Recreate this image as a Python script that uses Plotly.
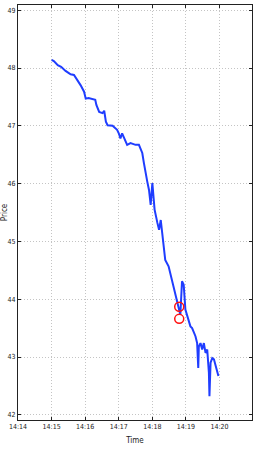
import plotly.graph_objects as go

day = "2020-01-01 "
times = ["14:15:00","14:15:04","14:15:11","14:15:17","14:15:25","14:15:34","14:15:40","14:15:46",
         "14:15:52","14:15:58","14:16:01","14:16:06","14:16:13","14:16:18","14:16:20","14:16:25",
         "14:16:31","14:16:34","14:16:37","14:16:40","14:16:49","14:16:57","14:17:00","14:17:03",
         "14:17:06","14:17:12","14:17:15","14:17:21","14:17:30","14:17:36","14:17:39","14:17:42",
         "14:17:45","14:17:48","14:17:51","14:17:54","14:17:56","14:17:57","14:18:00","14:18:02",
         "14:18:03","14:18:04","14:18:09","14:18:12","14:18:15","14:18:18","14:18:20","14:18:23",
         "14:18:29","14:18:32","14:18:35","14:18:38","14:18:41","14:18:44","14:18:47","14:18:50",
         "14:18:53","14:18:56","14:18:59","14:19:05","14:19:08","14:19:11","14:19:14","14:19:17",
         "14:19:20","14:19:22","14:19:23","14:19:26","14:19:29","14:19:32","14:19:35","14:19:38",
         "14:19:41","14:19:42","14:19:44","14:19:47","14:19:50","14:19:53","14:19:56","14:19:58"]
prices = [48.14,48.12,48.05,48.02,47.95,47.89,47.88,47.80,
          47.70,47.59,47.47,47.48,47.46,47.45,47.36,47.24,
          47.22,47.26,47.07,47.01,47.00,46.93,46.87,46.78,
          46.87,46.75,46.67,46.70,46.67,46.67,46.61,46.53,
          46.35,46.15,46.03,45.89,45.72,45.63,46.01,45.80,
          45.63,45.55,45.32,45.20,45.37,45.14,44.91,44.68,
          44.57,44.45,44.34,44.22,44.11,43.99,43.82,43.73,
          44.31,44.25,43.82,43.65,43.53,43.50,43.42,43.36,
          43.24,42.81,43.18,43.24,43.13,43.24,43.07,43.13,
          42.73,42.32,42.90,42.98,42.96,42.84,42.75,42.67]

mark_times = ["14:18:48", "14:18:48"]
mark_prices = [43.87, 43.66]

tick_times = ["14:14","14:15","14:16","14:17","14:18","14:19","14:20"]
y_ticks = [42, 43, 44, 45, 46, 47, 48, 49]

font_family = "Liberation Sans Narrow, DejaVu Sans Condensed, Arial Narrow, sans-serif"

fig = go.Figure()
fig.add_trace(go.Scatter(x=[day + t for t in times], y=prices, mode="lines",
                         line=dict(color="#1f3dff", width=2), showlegend=False))
fig.add_trace(go.Scatter(x=[day + t for t in mark_times], y=mark_prices, mode="markers",
                         marker=dict(symbol="circle-open", color="#ff1010", size=9,
                                     line=dict(width=1.5, color="#ff1010")),
                         showlegend=False))

grid = dict(showgrid=True, gridcolor="#c4c4c4", griddash="1px,2px", gridwidth=1)

fig.update_layout(
    width=254, height=458,
    margin=dict(l=18, r=2, t=5, b=38),
    paper_bgcolor="white", plot_bgcolor="white",
    font=dict(family=font_family, size=7, color="#222"),
    xaxis=dict(
        type="date", automargin=False,
        range=[day + "14:14:00", day + "14:20:58"],
        tickvals=[day + t + ":00" for t in tick_times],
        ticktext=tick_times,
        ticks="inside", ticklen=3, tickcolor="#222",
        showline=True, linecolor="#222", linewidth=1, mirror="ticks",
        zeroline=False,
        title=dict(text="Time", font=dict(size=8), standoff=6),
        **grid,
    ),
    yaxis=dict(
        automargin=False,
        range=[41.91, 49.09],
        tickvals=y_ticks,
        ticktext=[str(v) for v in y_ticks],
        ticks="inside", ticklen=3, tickcolor="#222",
        showline=True, linecolor="#222", linewidth=1, mirror="ticks",
        zeroline=False,
        title=dict(text="Price", font=dict(size=8), standoff=2),
        **grid,
    ),
)

fig.write_html("out.html", config={"displayModeBar": False},
               post_script="document.body.style.margin='0px';")
